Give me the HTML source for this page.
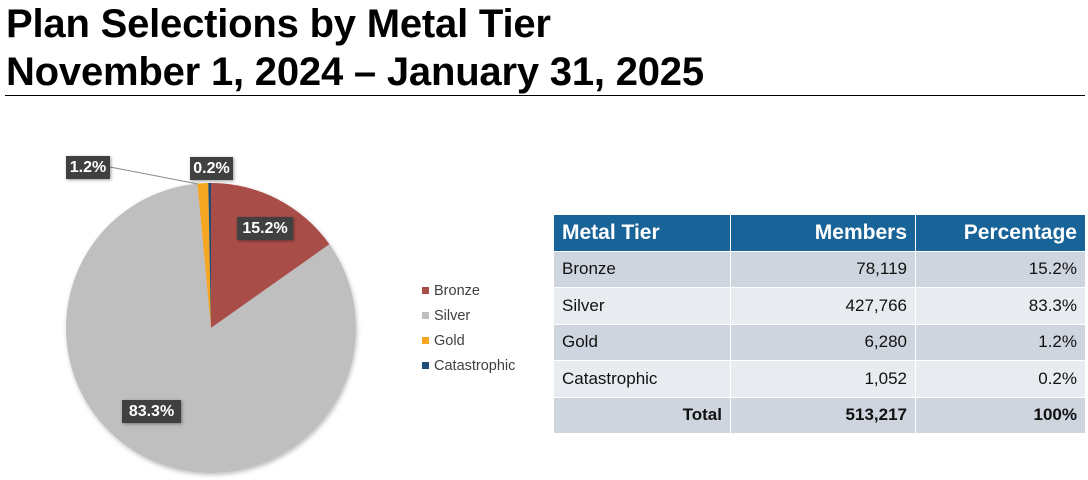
<!DOCTYPE html>
<html><head><meta charset="utf-8"><style>
body{margin:0;width:1088px;height:480px;background:#fff;font-family:"Liberation Sans",Arial,sans-serif;position:relative;overflow:hidden}
.t{position:absolute;left:6px;font-weight:bold;font-size:40px;color:#000;line-height:1;letter-spacing:-0.2px}
.lbl{position:absolute;background:#404040;color:#fff;font-weight:bold;font-size:16px;height:23px;line-height:23px;text-align:center;box-shadow:1px 1px 3px rgba(0,0,0,.4)}
.lg{position:absolute;left:422px;font-size:14.5px;color:#404040}
.lg i{display:inline-block;width:7px;height:7px;margin-right:5px;vertical-align:1px}
table{position:absolute;left:553px;top:214px;border-collapse:collapse;font-size:17px;color:#111}
td,th{border:1px solid #fff;padding:0 8px;height:35.5px}
th{background:#186499;color:#fff;font-size:21px;text-align:right}
tr.a td{background:#cfd5df}tr.b td{background:#e8ebf0}
</style></head><body>
<div class="t" style="top:4px">Plan Selections by Metal Tier</div>
<div class="t" style="top:52px">November 1, 2024 – January 31, 2025</div>
<div style="position:absolute;left:5px;top:95px;width:1080px;height:1px;background:#000"></div>
<svg width="1088" height="480" style="position:absolute;left:0;top:0">
<defs><filter id="s"><feDropShadow dx="1" dy="2" stdDeviation="2" flood-opacity=".25"/></filter></defs>
<g filter="url(#s)">
<path d="M211,328 L211,183 A145,145 0 0 1 329.4,244.3 Z" fill="#a94d4a"/>
<path d="M211,328 L329.4,244.3 A145,145 0 1 1 197.4,183.6 Z" fill="#bfbfbf"/>
<path d="M211,328 L197.4,183.6 A145,145 0 0 1 208.3,183 Z" fill="#f5a623"/>
<path d="M211,328 L208.3,183 A145,145 0 0 1 211,183 Z" fill="#1f4e79"/>
</g>
<line x1="110" y1="167" x2="198" y2="184" stroke="#888" stroke-width="1"/>
</svg>
<div class="lbl" style="left:66px;top:156px;width:44px">1.2%</div>
<div class="lbl" style="left:190px;top:157px;width:43px">0.2%</div>
<div class="lbl" style="left:237px;top:217px;width:56px">15.2%</div>
<div class="lbl" style="left:122px;top:400px;width:59px">83.3%</div>
<div class="lg" style="top:283px"><i style="background:#a94d4a"></i>Bronze</div>
<div class="lg" style="top:308px"><i style="background:#bfbfbf"></i>Silver</div>
<div class="lg" style="top:333px"><i style="background:#f5a623"></i>Gold</div>
<div class="lg" style="top:358px"><i style="background:#1f4e79"></i>Catastrophic</div>
<table>
<tr><th style="width:160px;text-align:left">Metal Tier</th><th style="width:168px">Members</th><th style="width:153px">Percentage</th></tr>
<tr class="a"><td>Bronze</td><td align="right">78,119</td><td align="right">15.2%</td></tr>
<tr class="b"><td>Silver</td><td align="right">427,766</td><td align="right">83.3%</td></tr>
<tr class="a"><td>Gold</td><td align="right">6,280</td><td align="right">1.2%</td></tr>
<tr class="b"><td>Catastrophic</td><td align="right">1,052</td><td align="right">0.2%</td></tr>
<tr class="a"><td align="right"><b>Total</b></td><td align="right"><b>513,217</b></td><td align="right"><b>100%</b></td></tr>
</table>
</body></html>
